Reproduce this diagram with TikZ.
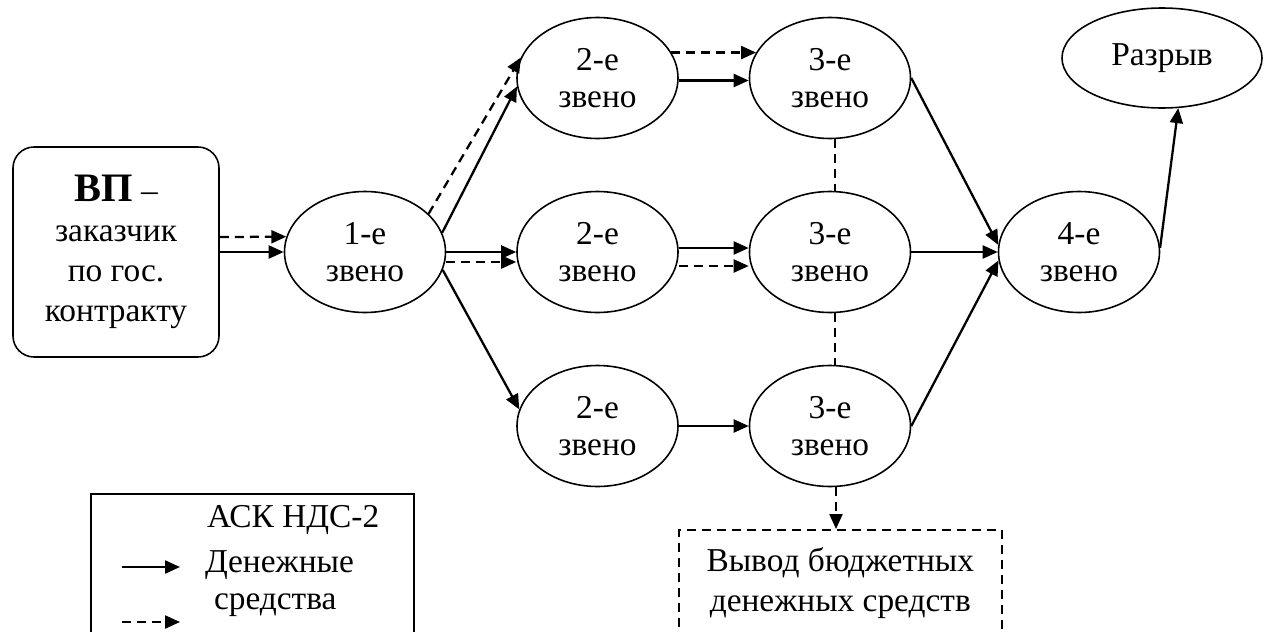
\documentclass[tikz,border=0pt]{standalone}
\usepackage{fontspec}
\setmainfont{Liberation Serif}
\usepackage{tikz}
\usetikzlibrary{arrows.meta,shapes.geometric}
\usetikzlibrary{positioning}

\begin{document}
\begin{tikzpicture}[-,>={Triangle[length=0.3cm,width=0.26cm]},line width=1.3pt,node distance=4.65cm,
                    font=\fontsize{19}{21}\selectfont]
				\tikzstyle{zveno}=[ellipse, draw=black, line width=0.9pt, minimum width=3.22cm, minimum height=2.42cm, inner sep=0pt, align=center, text=black]
				\tikzstyle{dsh}=[dash pattern=on 0.18cm off 0.12cm]
				\useasboundingbox (0,0) rectangle (25.28,-12.64);
					 \node[zveno] (z1) at (7.3,-5.04) {1-е\\звено};
					 \node[draw, rounded corners=0.42cm, line width=0.9pt, minimum width=4.12cm, minimum height=4.2cm, align=center,
					       font=\fontsize{19}{22.7}\selectfont] (vp) [left of=z1, node distance=4.98cm]
					       {{\fontsize{23}{24}\selectfont\bfseries ВП} –\\заказчик\\по гос.\\контракту};
					 \node[zveno] (z2b) [right of=z1] {2-е\\звено};
					 \node[zveno] (z2a) [above of=z2b, node distance=3.48cm] {2-е\\звено};
					 \node[zveno] (z2c) [below of=z2b, node distance=3.48cm] {2-е\\звено};
					 \node[zveno] (z3b) [right of=z2b] {3-е\\звено};
					 \node[zveno] (z3a) [above of=z3b, node distance=3.48cm] {3-е\\звено};
					 \node[zveno] (z3c) [below of=z3b, node distance=3.48cm] {3-е\\звено};
					 \node[zveno] (z4) [right of=z3b, node distance=4.98cm] {4-е\\звено};
					 \node[zveno, minimum width=4cm, minimum height=2cm] (razr) at (23.24,-1.16) {Разрыв};
					 \node[draw, dsh, line width=0.9pt, anchor=north west, minimum width=6.46cm, minimum height=2.12cm, align=center,
					       font=\fontsize{19}{22.7}\selectfont] (vyvod) at (13.56,-10.58) {Вывод бюджетных\\денежных средств};
					 % legend
					 \node[draw, line width=0.9pt, anchor=north west, minimum width=6.46cm, minimum height=3.3cm] (legend) at (1.8,-9.86) {};
					 \node[anchor=west] (ask) at (4.0,-10.4) {АСК НДС-2};
					 \node[anchor=west] (den) at (3.96,-11.3) {Денежные};
					 \node[anchor=west] (sred) at (4.14,-12.1) {средства};
					 \coordinate (ls1) at (2.44,-11.34);
					 \coordinate (ls2) at (3.6,-11.34);
					 \coordinate (ld1) at (2.44,-12.44);
					 \coordinate (ld2) at (3.6,-12.44);
					 \draw[->] (ls1) -- (ls2);
					 \draw[->,dsh] (ld1) -- (ld2);
					 % links
					 \draw[->,dsh] ([yshift=0.3cm]vp.east) -- (z1.169);
					 \draw[->] (vp.east) -- (z1.west);
					 \draw[->,dsh] (z1.31) -- (z2a.165);
					 \draw[->] (z1.14) -- (z2a.186);
					 \draw[->] (z1.east) -- (z2b.west);
					 \draw[->,dsh] ([yshift=-0.2cm]z1.east) -- ([yshift=-0.2cm]z2b.west);
					 \draw[->] (z1.-13) -- (z2c.168);
					 \draw[->,dsh] (z2a.19) -- (z3a.161);
					 \draw[->] ([yshift=-0.05cm]z2a.east) -- ([yshift=-0.05cm]z3a.west);
					 \draw[->] ([yshift=0.08cm]z2b.east) -- ([yshift=0.08cm]z3b.west);
					 \draw[->,dsh] ([yshift=-0.28cm]z2b.east) -- ([yshift=-0.28cm]z3b.west);
					 \draw[->] (z2c.east) -- (z3c.west);
					 \draw[line width=0.7pt,dsh] ([xshift=1mm]z3a.south) -- ([xshift=1mm]z3b.north);
					 \draw[line width=0.7pt,dsh] ([xshift=1mm]z3b.south) -- ([xshift=1mm]z3c.north);
					 \draw[->] (z3a.east) -- (z4.175);
					 \draw[->] (z3b.east) -- (z4.west);
					 \draw[->] (z3c.east) -- (z4.186);
					 \draw[->] (z4.3) -- (razr.288);
					 \draw[->,dsh] ([xshift=1.2mm]z3c.south) -- ([xshift=1.2mm]z3c.south |- vyvod.north);
				\end{tikzpicture}
\end{document}
